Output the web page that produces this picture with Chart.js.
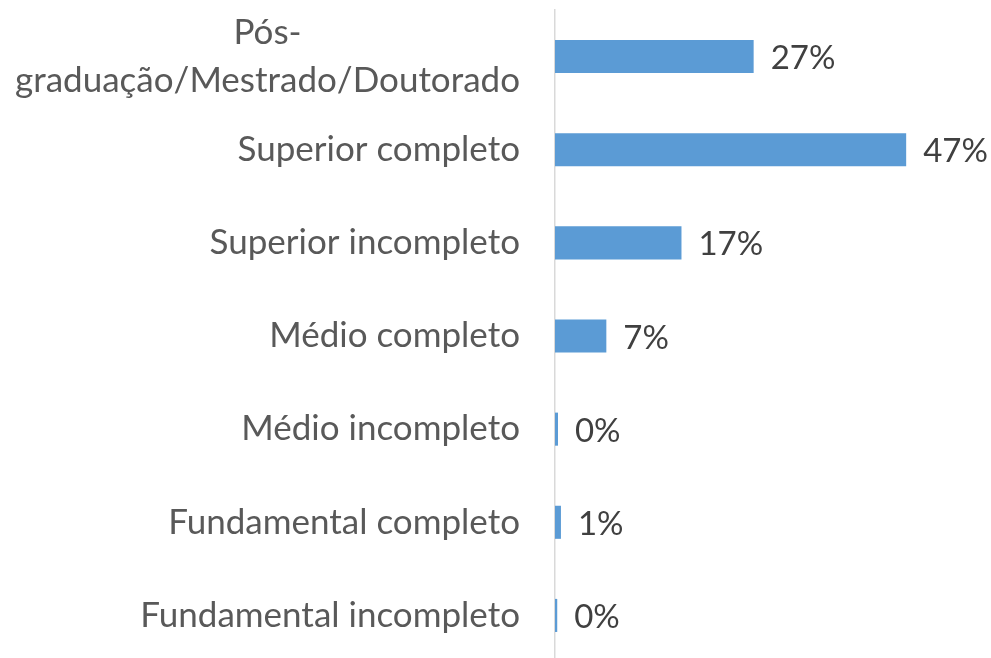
<!DOCTYPE html>
<html><head><meta charset="utf-8">
<script src="https://cdn.jsdelivr.net/npm/chart.js@4/dist/chart.umd.min.js"></script>
<style>html,body{margin:0;padding:0;overflow:hidden;background:#fff}#wrap{position:relative;width:991px;height:662px}</style>
</head><body><div id="wrap"><canvas id="c"></canvas></div>
<script>
const categories = [["Pós-","graduação/Mestrado/Doutorado"],"Superior completo","Superior incompleto","Médio completo","Médio incompleto","Fundamental completo","Fundamental incompleto"];
const values = [26.7, 47.2, 17.0, 6.9, 0.4, 0.8, 0.3];
const FONT = "Lato, 'Open Sans', sans-serif";

const labelPlugin = {
  id: 'valueLabels',
  afterDatasetsDraw(chart) {
    const ctx = chart.ctx;
    const meta = chart.getDatasetMeta(0);
    const ys = chart.scales.y;
    ctx.save();
    // category labels (multi-line labels centred on their longest line)
    ctx.font = "35px " + FONT;
    ctx.fillStyle = "#595959";
    ctx.textBaseline = "middle";
    const rightX = ys.right - 35;
    const lh = 48;
    categories.forEach((lab, i) => {
      const y = ys.getPixelForTick(i);
      const lines = Array.isArray(lab) ? lab : [lab];
      const maxW = Math.max(...lines.map(l => ctx.measureText(l).width));
      const y0 = y - (lines.length - 1) * lh / 2;
      lines.forEach((l, k) => {
        if (lines.length > 1) { ctx.textAlign = "center"; ctx.fillText(l, rightX - maxW / 2, y0 + k * lh); }
        else { ctx.textAlign = "right"; ctx.fillText(l, rightX, y0 + k * lh); }
      });
    });
    // value labels
    ctx.font = "33px " + FONT;
    ctx.fillStyle = "#404040";
    ctx.textAlign = "left";
    meta.data.forEach((el, i) => {
      ctx.fillText(Math.round(values[i]) + "%", el.x + 17, el.y + 2);
    });
    ctx.restore();
  }
};

new Chart(document.getElementById('c'), {
  type: 'bar',
  data: { labels: categories, datasets: [{ data: values, backgroundColor: '#5B9BD5', borderWidth: 0, categoryPercentage: 1, barPercentage: 0.355 }] },
  options: {
    indexAxis: 'y', responsive: true, maintainAspectRatio: false, animation: false,
    layout: { padding: { top: 10, right: 64, bottom: 0, left: 0 } },
    plugins: { legend: { display: false }, tooltip: { enabled: false } },
    scales: {
      x: { min: 0, max: 50, display: false },
      y: {
        afterFit(s) { s.width = 555; s.paddingTop = 0; s.paddingBottom = 0; },
        grid: { display: false, drawTicks: false },
        border: { display: true, color: '#D9D9D9', width: 1.5 },
        ticks: { display: false, autoSkip: false }
      }
    }
  },
  plugins: [labelPlugin]
});
</script></body></html>
